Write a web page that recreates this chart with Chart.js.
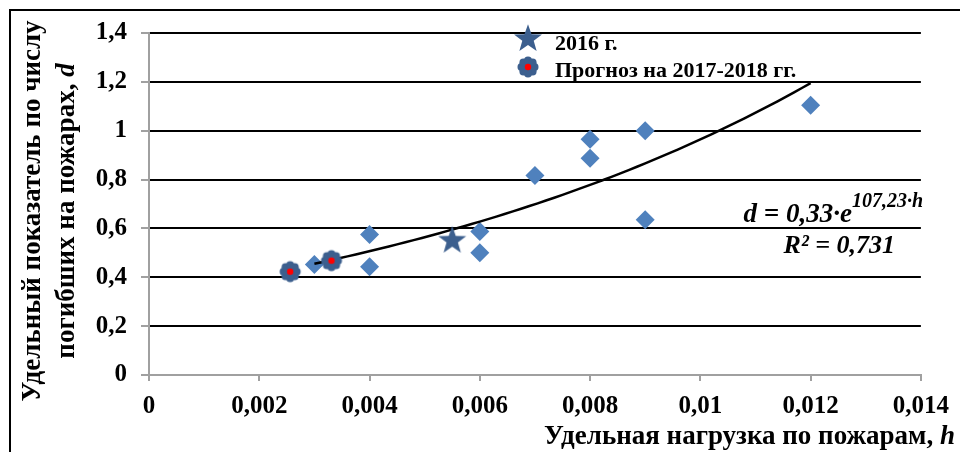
<!DOCTYPE html>
<html>
<head>
<meta charset="utf-8">
<script src="https://cdn.jsdelivr.net/npm/chart.js@4.4.0/dist/chart.umd.min.js"></script>
<style>
  html, body { margin: 0; padding: 0; background: #fff; }
  #wrap { width: 960px; height: 452px; position: relative; }
  canvas { display: block; }
</style>
</head>
<body>
<div id="wrap"><canvas id="chart" width="960" height="452"></canvas></div>
<script>
// Observed regions: specific fire load h and specific death rate d
const loadH   = [0.003, 0.004, 0.004, 0.006, 0.006, 0.007, 0.008, 0.008, 0.009, 0.009, 0.012];
const deathsD = [0.452, 0.575, 0.443, 0.587, 0.500, 0.817, 0.965, 0.887, 1.000, 0.636, 1.104];

// Year 2016
const load2016   = [0.0055];
const deaths2016 = [0.55];

// Forecast for 2017-2018
const loadForecast   = [0.00256, 0.00331];
const deathsForecast = [0.423, 0.468];

// Exponential trend d = a·e^(b·h), coefficients as printed on the chart
const trendA = 0.33;
const trendB = 107.23;
const trendFrom = 0.003;
const trendTo = 0.012;

const xTickLabels = ['0', '0,002', '0,004', '0,006', '0,008', '0,01', '0,012', '0,014'];
const yTickLabels = ['0', '0,2', '0,4', '0,6', '0,8', '1', '1,2', '1,4'];

const SERIF = '"Liberation Serif", "Times New Roman", serif';
const BLUE = '#4f81bd';
const DARK_BLUE = '#3c5f8e';
const AXIS_GREY = '#a0a0a0';

function pairs(xs, ys) { return xs.map((x, i) => ({ x, y: ys[i] })); }

// sample the trend curve along h
const trendPoints = [];
for (let i = 0; i <= 60; i++) {
  const h = trendFrom + (trendTo - trendFrom) * i / 60;
  trendPoints.push({ x: h, y: trendA * Math.exp(trendB * h) });
}

// filled five-pointed star marker
function makeStar(R, r, color) {
  const size = Math.ceil(R * 2 + 2);
  const c = document.createElement('canvas');
  c.width = size; c.height = size;
  const g = c.getContext('2d');
  const cx = size / 2, cy = size / 2;
  g.beginPath();
  for (let i = 0; i < 10; i++) {
    const rad = (i % 2 === 0) ? R : r;
    const a = -Math.PI / 2 + i * Math.PI / 5;
    const px = cx + rad * Math.cos(a), py = cy + rad * Math.sin(a);
    if (i === 0) g.moveTo(px, py); else g.lineTo(px, py);
  }
  g.closePath();
  g.fillStyle = color;
  g.fill();
  return c;
}

// scalloped round marker with a red centre
function makeFlower(color) {
  const size = 24;
  const c = document.createElement('canvas');
  c.width = size; c.height = size;
  const g = c.getContext('2d');
  const cx = size / 2, cy = size / 2;
  g.fillStyle = color;
  g.beginPath(); g.arc(cx, cy, 8, 0, Math.PI * 2); g.fill();
  for (let i = 0; i < 8; i++) {
    const a = i * Math.PI / 4;
    g.beginPath();
    g.arc(cx + 6.5 * Math.cos(a), cy + 6.5 * Math.sin(a), 4, 0, Math.PI * 2);
    g.fill();
  }
  g.fillStyle = '#ff0000';
  g.beginPath(); g.arc(cx, cy, 3.2, 0, Math.PI * 2); g.fill();
  return c;
}

const starImg = makeStar(14.7, 6, DARK_BLUE);
const flowerImg = makeFlower(DARK_BLUE);

const decor = {
  id: 'decor',
  beforeDraw(chart) {
    const ctx = chart.ctx;
    ctx.save();
    ctx.fillStyle = '#fff';
    ctx.fillRect(0, 0, chart.width, chart.height);
    ctx.restore();
  },
  afterDraw(chart) {
    const ctx = chart.ctx;
    ctx.save();

    // outer frame
    ctx.strokeStyle = '#000';
    ctx.lineWidth = 2;
    ctx.beginPath();
    ctx.moveTo(10, chart.height + 2);
    ctx.lineTo(10, 10);
    ctx.lineTo(chart.width + 2, 10);
    ctx.stroke();

    ctx.fillStyle = '#000';

    // legend
    ctx.drawImage(starImg, 528 - starImg.width / 2, 39 - starImg.height / 2);
    ctx.drawImage(flowerImg, 528 - flowerImg.width / 2, 67 - flowerImg.height / 2);
    ctx.font = 'bold 22px ' + SERIF;
    ctx.textAlign = 'left';
    ctx.textBaseline = 'alphabetic';
    ctx.fillText('2016 г.', 555, 50);
    ctx.fillText('Прогноз на 2017-2018 гг.', 555, 77);

    // trend equation
    const eqRight = 923;
    ctx.font = 'italic bold 20px ' + SERIF;
    const sup = '107,23·h';
    const supW = ctx.measureText(sup).width;
    ctx.textAlign = 'right';
    ctx.fillText(sup, eqRight, 207);
    ctx.font = 'italic bold 27px ' + SERIF;
    ctx.fillText('d = 0,33·e', eqRight - supW, 222);
    ctx.font = 'italic bold 26px ' + SERIF;
    ctx.fillText('R² = 0,731', 895, 253);

    // x axis title
    const TITLE = 27;
    const xMain = 'Удельная нагрузка по пожарам, ';
    ctx.font = 'italic bold ' + TITLE + 'px ' + SERIF;
    const hW = ctx.measureText('h').width;
    ctx.textAlign = 'right';
    ctx.fillText('h', 955, 444);
    ctx.font = 'bold ' + TITLE + 'px ' + SERIF;
    ctx.fillText(xMain, 955 - hW, 444);

    // y axis title, two rotated lines
    ctx.rotate(-Math.PI / 2);
    const yc = 211;
    ctx.textBaseline = 'middle';
    ctx.textAlign = 'center';
    ctx.font = 'bold ' + TITLE + 'px ' + SERIF;
    ctx.fillText('Удельный показатель по числу', -yc, 33);
    const l2 = 'погибших на пожарах, ';
    const l2W = ctx.measureText(l2).width;
    ctx.font = 'italic bold ' + TITLE + 'px ' + SERIF;
    const dW = ctx.measureText('d').width;
    const start = -yc - (l2W + dW) / 2;
    ctx.textAlign = 'left';
    ctx.font = 'bold ' + TITLE + 'px ' + SERIF;
    ctx.fillText(l2, start, 67);
    ctx.font = 'italic bold ' + TITLE + 'px ' + SERIF;
    ctx.fillText('d', start + l2W, 67);

    ctx.restore();
  }
};

new Chart(document.getElementById('chart'), {
  type: 'scatter',
  data: {
    datasets: [
      {
        label: 'Прогноз на 2017-2018 гг.',
        data: pairs(loadForecast, deathsForecast),
        pointStyle: flowerImg,
        pointRadius: 12,
        order: 0
      },
      {
        label: '2016 г.',
        data: pairs(load2016, deaths2016),
        pointStyle: starImg,
        pointRadius: 15,
        order: 1
      },
      {
        label: 'Тренд',
        type: 'line',
        data: trendPoints,
        borderColor: '#000',
        borderWidth: 2.5,
        pointRadius: 0,
        fill: false,
        tension: 0,
        order: 2
      },
      {
        label: 'Регионы',
        data: pairs(loadH, deathsD),
        pointStyle: 'rectRot',
        pointRadius: 9.5,
        backgroundColor: BLUE,
        borderColor: BLUE,
        borderWidth: 0,
        order: 3
      }
    ]
  },
  options: {
    responsive: false,
    animation: false,
    devicePixelRatio: 1,
    layout: { autoPadding: false, padding: { left: 0, right: 37, top: 33, bottom: 0 } },
    plugins: { legend: { display: false }, tooltip: { enabled: false }, title: { display: false } },
    elements: { point: { hoverRadius: 0 } },
    scales: {
      x: {
        type: 'linear',
        min: 0, max: 0.014,
        afterFit(s) { s.height = 77; },
        afterBuildTicks(s) { s.ticks = xTickLabels.map((_, i) => ({ value: i * 0.002 })); },
        ticks: {
          callback: (v, i) => xTickLabels[i],
          font: { family: SERIF, size: 25, weight: 'bold' },
          color: '#000',
          padding: 11,
          maxRotation: 0,
          autoSkip: false
        },
        grid: { drawOnChartArea: false, drawTicks: true, tickLength: 6, tickColor: AXIS_GREY, color: AXIS_GREY, lineWidth: 2 },
        border: { display: true, color: AXIS_GREY, width: 2 }
      },
      y: {
        type: 'linear',
        min: 0, max: 1.4,
        afterFit(s) { s.width = 149; },
        afterBuildTicks(s) { s.ticks = yTickLabels.map((_, i) => ({ value: i * 0.2 })); },
        ticks: {
          callback: (v, i) => yTickLabels[i],
          font: { family: SERIF, size: 25, weight: 'bold' },
          color: '#000',
          padding: 14,
          autoSkip: false
        },
        grid: {
          drawTicks: true,
          tickLength: 8,
          tickColor: AXIS_GREY,
          color: (c) => (c.index === 0 ? AXIS_GREY : '#000'),
          lineWidth: 2
        },
        border: { display: true, color: AXIS_GREY, width: 2 }
      }
    }
  },
  plugins: [decor]
});
</script>
</body>
</html>
